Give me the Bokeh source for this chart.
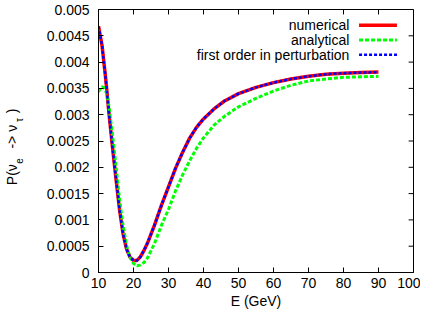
from bokeh.plotting import figure
from bokeh.models import Range1d, FixedTicker, Label, LinearAxis
from bokeh.embed import file_html
from bokeh.resources import INLINE

# ---------------- data ----------------
E_numerical = [10, 11, 12, 13, 14, 15, 16, 17, 18, 19, 20, 21, 22, 23, 24, 26, 28, 30,
               32, 34, 36, 38, 40, 43, 46, 50, 55, 60, 65, 70, 75, 80, 85, 90]
P_numerical = [0.00468, 0.00432, 0.00372, 0.00302, 0.00238, 0.00178, 0.00120, 0.00074,
               0.00045, 0.00029, 0.00023, 0.00023, 0.00030, 0.00042, 0.00056, 0.00090,
               0.00128, 0.00163, 0.00198, 0.00228, 0.00255, 0.00276, 0.00292, 0.00311,
               0.00326, 0.00340, 0.00352, 0.00361, 0.00368, 0.00373, 0.00377, 0.00379,
               0.00380, 0.00381]

E_analytical = [10, 10.5, 11, 11.5, 12, 12.5, 13, 14, 15, 16, 17, 18, 19, 20, 21, 22, 23,
                24, 26, 28, 30, 32, 34, 36, 38, 40, 43, 46, 50, 55, 60, 65, 70, 75, 80, 85, 90]
P_analytical = [0.00343, 0.00350, 0.00353, 0.00352, 0.00347, 0.00335, 0.00315, 0.00262,
                0.00202, 0.00140, 0.00090, 0.00052, 0.00029, 0.00017, 0.00013, 0.00014,
                0.00019, 0.00028, 0.00055, 0.00090, 0.00120, 0.00155, 0.00185, 0.00212,
                0.00236, 0.00256, 0.00280, 0.00297, 0.00315, 0.00331, 0.00345, 0.00356,
                0.00364, 0.00368, 0.00371, 0.00372, 0.00373]

# first order in perturbation coincides with the numerical curve at this scale
E_perturbation = list(E_numerical)
P_perturbation = list(P_numerical)

series_names = ["numerical", "analytical", "first order in perturbation"]
x_ticks = [10, 20, 30, 40, 50, 60, 70, 80, 90, 100]
y_ticks = [0, 0.0005, 0.001, 0.0015, 0.002, 0.0025, 0.003, 0.0035, 0.004, 0.0045, 0.005]
x_label = "E (GeV)"

NB = "\u00a0"
# y label "P(nu_e -> nu_tau )": main line and its subscripts, aligned with no-break spaces
y_label_main = "P(\u03bd" + NB * 4 + "->" + NB + "\u03bd" + NB * 3 + ")" + NB * 3
y_label_subs = NB * 4 + "e" + NB * 13 + "\u03c4" + NB * 4

# ---------------- styling / layout ----------------
FONT = "Liberation Sans"
FS = "14px"
X0, X1, Y0, Y1 = 10, 100, 0, 0.005
# reference frame in image pixels, used to place decorations proportionally
L, R, T, B = 97, 421, 17, 281
TICK = 5  # px


def px_x(px):
    return X0 + (px - L) / (R - L) * (X1 - X0)


def px_y(py):
    return Y1 - (py - T) / (B - T) * (Y1 - Y0)


p = figure(width=420, height=311, output_backend="svg", toolbar_location=None,
           x_range=Range1d(X0, X1), y_range=Range1d(Y0, Y1),
           min_border_left=89, min_border_right=7, min_border_top=9,
           min_border_bottom=38)
p.grid.visible = False
p.outline_line_color = "black"
p.outline_line_width = 1
p.background_fill_color = "white"
p.border_fill_color = "white"

y_over = {v: "%g" % v for v in y_ticks}

for ax, ticks in ((p.xaxis[0], x_ticks), (p.yaxis[0], y_ticks)):
    ax.ticker = FixedTicker(ticks=ticks)
    ax.major_tick_in = TICK
    ax.major_tick_out = 0
    ax.minor_tick_line_color = None
    ax.axis_line_color = "black"
    ax.major_tick_line_color = "black"
    ax.major_label_text_font = FONT
    ax.major_label_text_font_size = FS
    ax.major_label_text_color = "black"
    ax.axis_label_text_font = FONT
    ax.axis_label_text_font_style = "normal"
    ax.axis_label_text_color = "black"

xa = p.xaxis[0]
xa.major_label_standoff = 5
xa.axis_label = x_label
xa.axis_label_text_font_size = FS
xa.axis_label_standoff = 2

ya = p.yaxis[0]
ya.major_label_standoff = 9
ya.major_label_overrides = y_over
ya.axis_label = y_label_subs
ya.axis_label_text_font_size = "10px"
ya.axis_label_standoff = 19

# outer left "axis" that only carries the main part of the y label
ylab = LinearAxis(ticker=FixedTicker(ticks=[]), axis_line_color=None,
                  major_tick_line_color=None, minor_tick_line_color=None,
                  major_tick_out=0, major_tick_in=0, major_label_standoff=0,
                  axis_label=y_label_main, axis_label_text_font=FONT,
                  axis_label_text_font_size=FS, axis_label_text_font_style="normal",
                  axis_label_text_color="black", axis_label_standoff=-9)
p.add_layout(ylab, "left")

# mirrored inward ticks on the top and right edges (gnuplot border tics)
dx = TICK / (R - L) * (X1 - X0)
dy = TICK / (B - T) * (Y1 - Y0)
p.segment(x0=x_ticks, y0=[Y1] * len(x_ticks), x1=x_ticks, y1=[Y1 - dy] * len(x_ticks),
          line_color="black", line_width=1)
p.segment(x0=[X1] * len(y_ticks), y0=y_ticks, x1=[X1 - dx] * len(y_ticks), y1=y_ticks,
          line_color="black", line_width=1)

# ---------------- curves ----------------
p.line(E_numerical, P_numerical, line_color="#ff0000", line_width=3.5)
p.line(E_analytical, P_analytical, line_color="#00ff00", line_width=3, line_dash="4 2")
p.line(E_perturbation, P_perturbation, line_color="#0000ff", line_width=2.5,
       line_dash="3 2")

# ---------------- legend (gnuplot style: text, then sample) ----------------
styles = [dict(line_color="#ff0000", line_width=3.5),
          dict(line_color="#00ff00", line_width=3, line_dash="4 2"),
          dict(line_color="#0000ff", line_width=2.5, line_dash="3 2")]
rows = [32.8, 47.6, 62.3]
for name, st, ry in zip(series_names, styles, rows):
    p.add_layout(Label(x=px_x(355), y=px_y(ry), text=name, text_align="right",
                       text_baseline="middle", text_font=FONT, text_font_size=FS,
                       text_color="black"))
    p.segment(x0=px_x(365), y0=px_y(ry), x1=px_x(404), y1=px_y(ry), **st)

open("out.html", "w").write(file_html(p, INLINE))
